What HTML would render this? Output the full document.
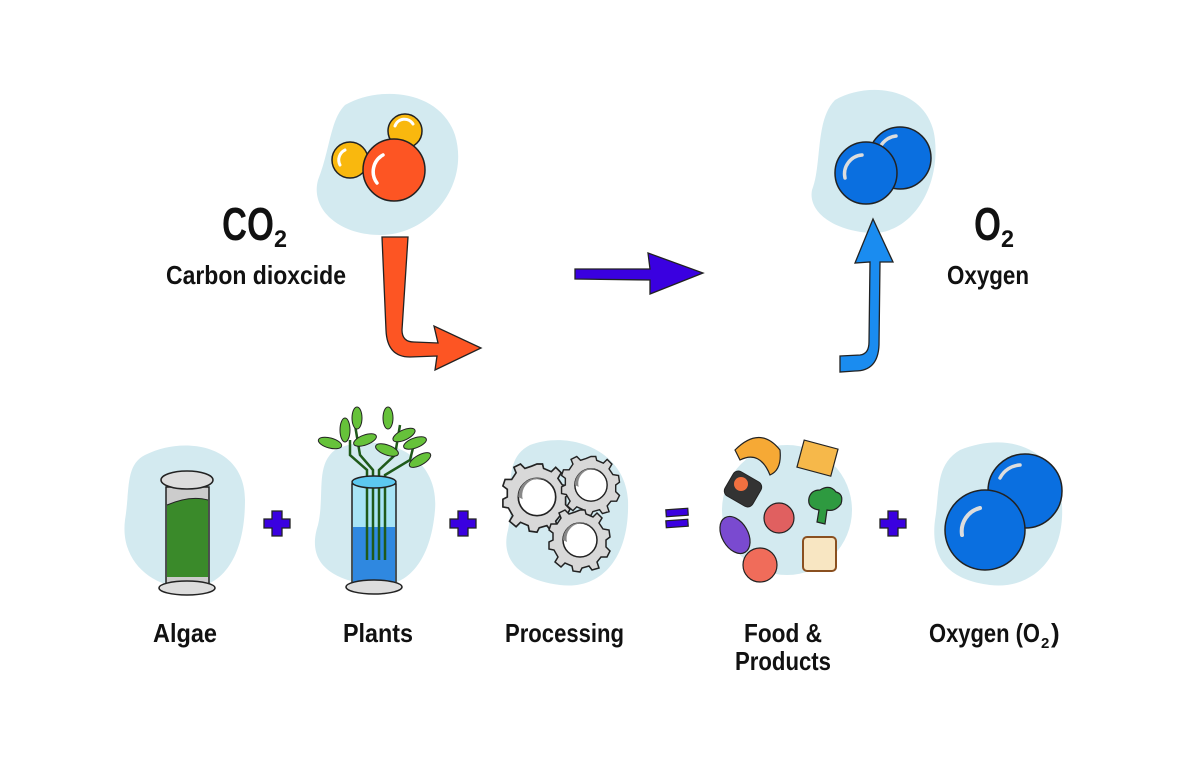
<!DOCTYPE html>
<html><head><meta charset="utf-8"><style>
html,body{margin:0;padding:0;background:#fff;}
svg{display:block}
text{font-family:"Liberation Sans",sans-serif;font-weight:bold;fill:#111;}
</style></head><body>
<svg width="1200" height="757" viewBox="0 0 1200 757" xmlns="http://www.w3.org/2000/svg">
<defs>
<g id="gear">
  <path d="M0,-30 L5,-30 L6,-26 L13,-23 L17,-27 L22,-22 L19,-17 L23,-11 L29,-10 L30,-3 L26,0 L26,7 L30,11 L27,17 L21,17 L17,22 L19,28 L12,30 L9,26 L2,28 L0,32 L-7,31 L-8,26 L-15,23 L-19,27 L-25,22 L-22,17 L-26,10 L-31,9 L-31,2 L-27,0 L-27,-7 L-31,-10 L-29,-16 L-23,-16 L-19,-22 L-21,-27 L-15,-30 L-11,-26 L-5,-28 Z" fill="#d8d8d8" stroke="#222" stroke-width="1.5"/>
  <circle r="17" fill="#fff" stroke="#222" stroke-width="1.5"/>
  <path d="M-17,0 A17,17 0 0 1 14,-10 A15,15 0 0 0 -13,2 Z" fill="#888"/>
</g>
</defs>

<!-- CO2 blob -->
<path d="M345,105 C380,85 440,90 455,135 C470,185 430,235 380,235 C340,235 310,210 318,180 C330,150 330,120 345,105 Z" fill="#d3eaf0"/>
<circle cx="405" cy="131" r="17" fill="#f9b80e" stroke="#222" stroke-width="1.5"/>
<path d="M395,126 A10,10 0 0 1 413,124" fill="none" stroke="#fff" stroke-width="3" stroke-linecap="round"/>
<circle cx="350" cy="160" r="18" fill="#f9b80e" stroke="#222" stroke-width="1.5"/>
<path d="M340,165 A11,11 0 0 1 345,150" fill="none" stroke="#fff" stroke-width="3" stroke-linecap="round"/>
<circle cx="394" cy="170" r="31" fill="#fd5523" stroke="#222" stroke-width="1.5"/>
<path d="M377,183 A19,19 0 0 1 383,155" fill="none" stroke="#fff" stroke-width="3.5" stroke-linecap="round"/>

<!-- orange arrow -->
<path d="M382,237 L408,237 L402,330 Q402,342 414,342 L438,343 L434,326 L481,348 L435,370 L437,356 L410,357 Q387,357 386,330 Z" fill="#fd5523" stroke="#222" stroke-width="1.3"/>

<!-- indigo arrow -->
<path d="M575,269 L650,269 L648,253 L703,273 L650,294 L650,280 L575,279 Z" fill="#3a00e0" stroke="#222" stroke-width="1.3"/>

<!-- CO2 label -->
<text x="222" y="240" font-size="46" textLength="52" lengthAdjust="spacingAndGlyphs">CO</text>
<text x="274" y="247" font-size="24" textLength="13" lengthAdjust="spacingAndGlyphs">2</text>
<text x="166" y="284" font-size="26" textLength="180" lengthAdjust="spacingAndGlyphs">Carbon dioxcide</text>

<!-- O2 blob -->
<path d="M835,100 C870,80 930,88 935,140 C940,190 910,235 870,233 C830,230 808,210 812,190 C822,165 815,120 835,100 Z" fill="#d3eaf0"/>
<circle cx="900" cy="158" r="31" fill="#0a6fe0" stroke="#222" stroke-width="1.5"/>
<path d="M879,150 A20,20 0 0 1 896,136" fill="none" stroke="#ddd" stroke-width="3.5" stroke-linecap="round"/>
<circle cx="866" cy="173" r="31" fill="#0a6fe0" stroke="#222" stroke-width="1.5"/>
<path d="M845,178 A19,19 0 0 1 862,155" fill="none" stroke="#ddd" stroke-width="3.5" stroke-linecap="round"/>

<!-- blue arrow -->
<path d="M840,356 L860,355 Q869,354 869,342 L870,262 L855,263 L873,219 L893,262 L880,262 L879,345 Q878,371 855,371 L840,372 Z" fill="#1a8cf0" stroke="#222" stroke-width="1.3"/>

<!-- O2 label -->
<text x="974" y="240" font-size="46" textLength="27" lengthAdjust="spacingAndGlyphs">O</text>
<text x="1001" y="247" font-size="24" textLength="13" lengthAdjust="spacingAndGlyphs">2</text>
<text x="947" y="284" font-size="26" textLength="82" lengthAdjust="spacingAndGlyphs">Oxygen</text>

<!-- Algae -->
<path d="M145,455 C185,435 245,445 245,500 C245,560 220,590 185,588 C150,586 120,560 125,520 C130,490 125,465 145,455 Z" fill="#d3eaf0"/>
<rect x="166" y="487" width="43" height="98" fill="#ccc" stroke="#222" stroke-width="1.5"/>
<path d="M167,505 Q190,495 208,500 L208,577 L167,577 Z" fill="#3a8a2a"/>
<path d="M167,505 Q190,495 208,500" fill="none" stroke="#222" stroke-width="1"/>
<ellipse cx="187" cy="480" rx="26" ry="9" fill="#ddd" stroke="#222" stroke-width="1.5"/>
<ellipse cx="187" cy="588" rx="28" ry="7" fill="#ddd" stroke="#222" stroke-width="1.5"/>

<!-- plus signs -->
<path id="plus" d="M272,511 L282,511 L282,519 L290,519 L290,528 L282,528 L282,536 L272,536 L272,528 L264,528 L264,519 L272,519 Z" fill="#3a00e0" stroke="#222" stroke-width="1.3"/>
<use href="#plus" x="186"/>
<use href="#plus" x="616"/>
<rect x="666" y="509" width="22" height="7" fill="#3a00e0" stroke="#222" stroke-width="1.2" transform="rotate(-4 677 512)"/>
<rect x="666" y="520" width="22" height="7" fill="#3a00e0" stroke="#222" stroke-width="1.2" transform="rotate(-4 677 523)"/>

<!-- Plants -->
<path d="M335,450 C375,430 440,450 435,510 C430,570 400,590 370,585 C335,580 305,565 318,525 C325,495 315,465 335,450 Z" fill="#d3eaf0"/>
<rect x="352" y="484" width="44" height="100" fill="#a8e4f6" stroke="#222" stroke-width="1.5"/>
<rect x="353" y="527" width="42" height="56" fill="#2f88e0"/>
<g stroke="#1f5a1a" stroke-width="2.5" fill="none">
<path d="M367,560 L367,470 L350,455 L350,440"/><path d="M373,560 L373,470 L360,455 L355,425"/><path d="M379,560 L379,470 L395,455 L400,425"/><path d="M385,560 L385,475 L410,460 L415,440"/>
</g>
<g fill="#66c23a" stroke="#222" stroke-width="1">
<ellipse cx="330" cy="443" rx="12" ry="5" transform="rotate(15 330 443)"/>
<ellipse cx="345" cy="430" rx="5" ry="12"/>
<ellipse cx="357" cy="418" rx="5" ry="11"/>
<ellipse cx="365" cy="440" rx="12" ry="5" transform="rotate(-20 365 440)"/>
<ellipse cx="387" cy="450" rx="12" ry="5" transform="rotate(20 387 450)"/>
<ellipse cx="388" cy="418" rx="5" ry="11"/>
<ellipse cx="404" cy="435" rx="12" ry="5" transform="rotate(-25 404 435)"/>
<ellipse cx="415" cy="443" rx="12" ry="5" transform="rotate(-20 415 443)"/>
<ellipse cx="420" cy="460" rx="12" ry="5" transform="rotate(-30 420 460)"/>
</g>
<ellipse cx="374" cy="482" rx="22" ry="6" fill="#5cc8f0" stroke="#222" stroke-width="1.5"/>
<ellipse cx="374" cy="587" rx="28" ry="7" fill="#ddd" stroke="#222" stroke-width="1.5"/>

<!-- Processing -->
<path d="M530,445 C570,430 625,450 628,500 C630,560 600,590 560,585 C520,580 500,560 508,530 C515,500 500,460 530,445 Z" fill="#d3eaf0"/>
<use href="#gear" transform="translate(537,497) scale(1.1)"/>
<use href="#gear" transform="translate(591,485) scale(0.95)"/>
<use href="#gear" transform="translate(580,540) scale(1)"/>

<!-- Food -->
<circle cx="787" cy="510" r="65" fill="#d3eaf0"/>
<path d="M735,450 Q760,425 780,450 Q782,470 770,475 Q760,450 740,460 Z" fill="#f6a935" stroke="#222" stroke-width="1.2"/>
<rect x="800" y="444" width="35" height="28" fill="#f6b84a" stroke="#222" stroke-width="1.2" transform="rotate(15 817 458)"/>
<rect x="727" y="475" width="32" height="28" rx="6" fill="#333" stroke="#222" transform="rotate(30 743 489)"/>
<circle cx="741" cy="484" r="7" fill="#f07040"/>
<ellipse cx="735" cy="535" rx="13" ry="20" fill="#7a4ad0" stroke="#222" stroke-width="1.2" transform="rotate(-30 735 535)"/>
<circle cx="779" cy="518" r="15" fill="#e06060" stroke="#222" stroke-width="1.2"/>
<path d="M820,490 q10,-6 16,2 q8,2 5,12 q-6,8 -14,6 l-2,14 l-8,-2 l2,-12 q-12,-2 -10,-12 q2,-8 11,-8 z" fill="#2e9a40" stroke="#222" stroke-width="1.2"/>
<circle cx="760" cy="565" r="17" fill="#f06c5a" stroke="#222" stroke-width="1.2"/>
<rect x="803" y="537" width="33" height="34" rx="4" fill="#f8e6c2" stroke="#8a5020" stroke-width="2"/>

<!-- Oxygen big -->
<path d="M960,450 C1010,430 1060,450 1062,505 C1065,560 1030,590 990,585 C950,580 930,560 935,520 C940,490 935,465 960,450 Z" fill="#d3eaf0"/>
<circle cx="1025" cy="491" r="37" fill="#0a6fe0" stroke="#222" stroke-width="1.5"/>
<path d="M1000,478 A24,24 0 0 1 1020,465" fill="none" stroke="#ddd" stroke-width="3.5" stroke-linecap="round"/>
<circle cx="985" cy="530" r="40" fill="#0a6fe0" stroke="#222" stroke-width="1.5"/>
<path d="M962,535 A24,24 0 0 1 980,508" fill="none" stroke="#ddd" stroke-width="4" stroke-linecap="round"/>

<!-- labels -->
<text x="153" y="642" font-size="26" textLength="64" lengthAdjust="spacingAndGlyphs">Algae</text>
<text x="343" y="642" font-size="26" textLength="70" lengthAdjust="spacingAndGlyphs">Plants</text>
<text x="505" y="642" font-size="26" textLength="119" lengthAdjust="spacingAndGlyphs">Processing</text>
<text x="744" y="642" font-size="26" textLength="78" lengthAdjust="spacingAndGlyphs">Food &amp;</text>
<text x="735" y="670" font-size="26" textLength="96" lengthAdjust="spacingAndGlyphs">Products</text>
<text x="929" y="642" font-size="26" textLength="111" lengthAdjust="spacingAndGlyphs">Oxygen (O</text>
<text x="1041" y="648" font-size="15">2</text>
<text x="1051" y="642" font-size="26">)</text>
</svg>
</body></html>
